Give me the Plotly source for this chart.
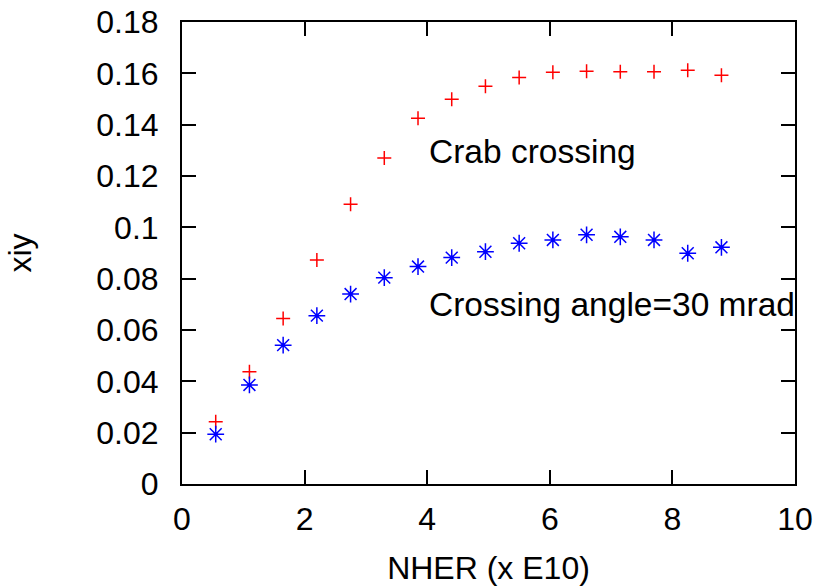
import plotly.graph_objects as go

nher = [0.55, 1.10, 1.65, 2.20, 2.75, 3.30, 3.85, 4.40, 4.95, 5.50, 6.05, 6.60, 7.15, 7.70, 8.25, 8.80]
xiy_crab = [0.0243, 0.0437, 0.0645, 0.0873, 0.109, 0.127, 0.1425, 0.1499, 0.155, 0.1584,
            0.1604, 0.1608, 0.1606, 0.1606, 0.1612, 0.1593]
xiy_angle = [0.0194, 0.0386, 0.0541, 0.0656, 0.074, 0.0804, 0.0847, 0.0882, 0.0905, 0.0938,
             0.0951, 0.0971, 0.0963, 0.0951, 0.0899, 0.0922]
x_ticks = [0, 2, 4, 6, 8, 10]
y_ticks = [0, 0.02, 0.04, 0.06, 0.08, 0.1, 0.12, 0.14, 0.16, 0.18]
y_ticklabels = ["0", "0.02", "0.04", "0.06", "0.08", "0.1", "0.12", "0.14", "0.16", "0.18"]

FONT = "Liberation Sans, Arial, sans-serif"
FS = 32
FS_ANN = 33.5

fig = go.Figure()
fig.add_trace(go.Scatter(
    x=nher, y=xiy_crab, mode="markers", name="Crab crossing",
    marker=dict(symbol="cross-thin-open", size=10, color="red",
                line=dict(color="red", width=1.5)),
))
fig.add_trace(go.Scatter(
    x=nher, y=xiy_angle, mode="markers", name="Crossing angle=30 mrad",
    marker=dict(symbol="asterisk-open", size=14, color="blue",
                line=dict(color="blue", width=1.5)),
))
fig.add_trace(go.Scatter(
    x=nher, y=xiy_angle, mode="markers", showlegend=False, hoverinfo="skip",
    marker=dict(symbol="circle", size=4, color="blue"),
))

fig.add_annotation(x=3.99, y=0.1297, text="Crab crossing", showarrow=False,
                   xanchor="left", yanchor="middle", font=dict(family=FONT, size=FS_ANN, color="black"))
fig.add_annotation(x=3.99, y=0.0700, text="Crossing angle=30 mrad", showarrow=False,
                   xanchor="left", yanchor="middle", font=dict(family=FONT, size=FS_ANN, color="black"))

axis_common = dict(
    showline=True, linecolor="black", linewidth=2, mirror="ticks",
    ticks="inside", ticklen=14, tickwidth=2, tickcolor="black",
    showgrid=False, zeroline=False, automargin=False,
    tickfont=dict(family=FONT, size=FS, color="black"),
)

fig.update_xaxes(range=[0, 10], tickvals=x_ticks, ticklabelstandoff=6,
                 title=dict(text="NHER (x E10)", font=dict(family=FONT, size=FS, color="black"), standoff=22),
                 **axis_common)
fig.update_yaxes(range=[0, 0.18], tickvals=y_ticks, ticktext=y_ticklabels, ticklabelstandoff=15,
                 title=dict(text="xiy", font=dict(family=FONT, size=FS, color="black"), standoff=55),
                 **axis_common)

fig.update_layout(
    width=822, height=586,
    margin=dict(l=182, r=27, t=22, b=102),
    paper_bgcolor="white", plot_bgcolor="white",
    showlegend=False,
    font=dict(family=FONT, size=FS, color="black"),
)

fig.write_html("out.html")
